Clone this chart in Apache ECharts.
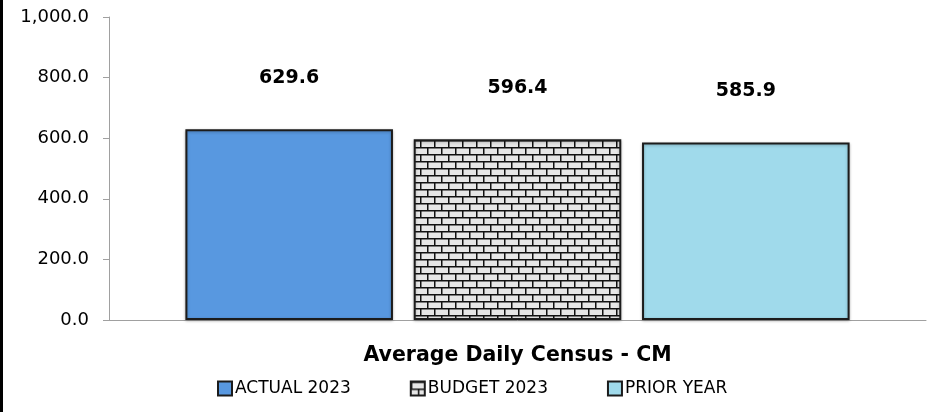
<!DOCTYPE html>
<html><head><meta charset="utf-8">
<script src="https://cdn.jsdelivr.net/npm/echarts@6/dist/echarts.min.js"></script>
<style>html,body{margin:0;padding:0;background:#fff}#c{width:932px;height:412px}</style>
</head><body><div id="c"></div>
<script>
const categories = ['Average Daily Census - CM'];
const seriesNames = ['ACTUAL 2023', 'BUDGET 2023', 'PRIOR YEAR'];
const actual2023 = [629.6];
const budget2023 = [596.4];
const priorYear = [585.9];
const yTicks = [0, 200, 400, 600, 800, 1000];

function brick() {
  const c = document.createElement('canvas');
  c.width = 14; c.height = 14;
  const g = c.getContext('2d');
  g.fillStyle = '#e6e6e6'; g.fillRect(0, 0, 14, 14);
  g.fillStyle = '#111';
  g.fillRect(0, 0, 14, 1.5);
  g.fillRect(0, 7, 14, 1.5);
  g.fillRect(0, 0, 1.5, 7);
  g.fillRect(7, 7, 1.5, 7);
  return c;
}
const brickPattern = { image: brick(), repeat: 'repeat' };

const chart = echarts.init(document.getElementById('c'));
const font = 'DejaVu Sans';
const labelCfg = {
  show: true, position: 'top', distance: 42,
  fontFamily: font, fontSize: 19, fontWeight: 'bold', color: '#000',
  formatter: p => p.value.toFixed(1)
};
const bar = (name, data, color) => ({
  name, type: 'bar', data, barGap: '10%', barCategoryGap: '18.7%',
  itemStyle: { color, borderColor: '#1c1c1c', borderWidth: 2,
    shadowColor: 'rgba(0,0,0,0.25)', shadowBlur: 3, shadowOffsetY: 1 },
  label: labelCfg
});
chart.setOption({
  animation: false,
  textStyle: { fontFamily: font },
  grid: { left: 109, right: 6, top: 17, bottom: 92, containLabel: false },
  graphic: [{ type: 'rect', left: 0, top: 0, shape: { x: 0, y: 0, width: 3, height: 412 }, style: { fill: '#000' } }],
  legend: {
    data: seriesNames, left: 212, top: 375, itemWidth: 14, itemHeight: 14, itemGap: 59,
    icon: 'rect',
    textStyle: { fontFamily: font, fontSize: 17, color: '#000', padding: [0, 0, 0, -2] }
  },
  xAxis: {
    type: 'category', data: categories,
    axisLine: { lineStyle: { color: '#a0a0a0', width: 1 } },
    axisTick: { show: false },
    axisLabel: { fontFamily: font, fontSize: 20.5, fontWeight: 'bold', color: '#000', margin: 25 }
  },
  yAxis: {
    type: 'value', min: 0, max: 1000, interval: 200,
    axisLine: { show: true, lineStyle: { color: '#a0a0a0' } },
    axisTick: { show: true, length: 6, lineStyle: { color: '#a0a0a0' } },
    splitLine: { show: false },
    axisLabel: { fontFamily: font, fontSize: 18, color: '#000', margin: 20,
      formatter: v => yTicks.includes(v) ? v.toLocaleString('en-US', { minimumFractionDigits: 1, maximumFractionDigits: 1 }) : '' }
  },
  series: [
    bar(seriesNames[0], actual2023, '#5898E0'),
    bar(seriesNames[1], budget2023, brickPattern),
    bar(seriesNames[2], priorYear, '#A0DAEB')
  ]
});
</script></body></html>
